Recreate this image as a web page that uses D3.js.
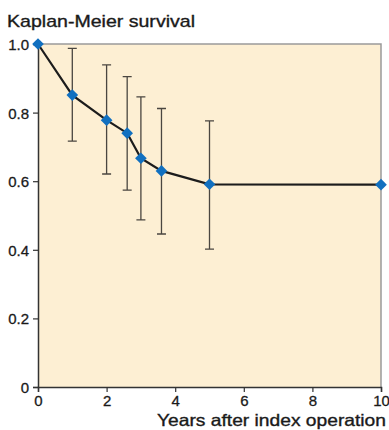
<!DOCTYPE html>
<html>
<head>
<meta charset="utf-8">
<script src="https://cdn.jsdelivr.net/npm/d3@7/dist/d3.min.js"></script>
<style>
  html, body { margin: 0; padding: 0; background: #fff; }
  svg { display: block; font-family: 'Liberation Sans', Arial, sans-serif; }
</style>
</head>
<body>
<svg id="chart" width="389" height="430"></svg>
<script>
// survival estimates
const years = [0, 1, 2, 2.6, 3, 3.6, 5, 10]
const survival = [1.0, 0.851, 0.778, 0.74, 0.667, 0.63, 0.591, 0.59]

// confidence intervals (error bars)
const ciYears = [1, 2, 2.6, 3, 3.6, 5]
const ciUpper = [0.987, 0.939, 0.905, 0.846, 0.812, 0.776]
const ciLower = [0.717, 0.621, 0.574, 0.487, 0.446, 0.402]

const xTicks = [0, 2, 4, 6, 8, 10]
const yTicks = [0, 0.2, 0.4, 0.6, 0.8, 1.0]

function buildScales() {
  const x = d3.scaleLinear().domain([0, 10]).range([38, 381])
  const y = d3.scaleLinear().domain([0, 1]).range([387, 44])
  return { x, y }
}

function buildBackground(svg, x, y) {
  svg.append('rect')
    .attr('x', x(0)).attr('y', y(1))
    .attr('width', x(10) - x(0)).attr('height', y(0) - y(1))
    .attr('fill', '#fdefd3')
  // top and right frame
  svg.append('path')
    .attr('d', 'M' + x(0) + ',' + y(1) + 'H' + x(10) + 'V' + y(0))
    .attr('fill', 'none').attr('stroke', '#9a9a9a').attr('stroke-width', 1.5)
}

function buildAxes(svg, x, y) {
  const yAxis = svg.append('g')
    .attr('transform', 'translate(' + x(0) + ',0)')
    .call(d3.axisLeft(y).tickValues(yTicks).tickSize(5).tickPadding(4)
      .tickFormat(d => d === 0 ? '0' : d3.format('.1f')(d)))
  const xAxis = svg.append('g')
    .attr('transform', 'translate(0,' + y(0) + ')')
    .call(d3.axisBottom(x).tickValues(xTicks).tickSize(5).tickPadding(3))

  ;[xAxis, yAxis].forEach(a => {
    a.select('.domain').attr('stroke', '#333').attr('stroke-width', 1.5)
    a.selectAll('.tick line').attr('stroke', '#333').attr('stroke-width', 1.2)
    a.selectAll('.tick text')
      .attr('fill', '#1a1a1a').attr('font-size', 15)
      .attr('stroke', '#1a1a1a').attr('stroke-width', 0.3)
      .attr('font-family', "'Liberation Sans', Arial, sans-serif")
  })
  yAxis.selectAll('.tick text').attr('dy', '0.36em')
}

function buildErrorBars(svg, x, y) {
  const bars = ciYears.map((t, i) => ({ t, hi: ciUpper[i], lo: ciLower[i] }))
  const g = svg.append('g').attr('stroke', '#4a4640').attr('stroke-width', 1.3)
  g.selectAll('path').data(bars).enter().append('path')
    .attr('fill', 'none')
    .attr('d', d =>
      'M' + x(d.t) + ',' + y(d.hi) + 'V' + y(d.lo) +
      'M' + (x(d.t) - 4.5) + ',' + y(d.hi) + 'h9' +
      'M' + (x(d.t) - 4.5) + ',' + y(d.lo) + 'h9')
}

function buildCurve(svg, x, y) {
  const pts = years.map((t, i) => ({ t, s: survival[i] }))
  const line = d3.line().x(d => x(d.t)).y(d => y(d.s))
  svg.append('path').datum(pts)
    .attr('d', line)
    .attr('fill', 'none').attr('stroke', '#1c1c1c').attr('stroke-width', 2.2)

  svg.append('g').selectAll('path').data(pts).enter().append('path')
    .attr('d', d3.symbol().type(d3.symbolSquare).size(68))
    .attr('transform', d => 'translate(' + x(d.t) + ',' + y(d.s) + ') rotate(45)')
    .attr('fill', '#1170c0')
}

function buildLabels(svg) {
  svg.append('text')
    .attr('x', 7).attr('y', 27)
    .attr('font-size', 17).attr('fill', '#1a1a1a')
    .attr('stroke', '#1a1a1a').attr('stroke-width', 0.35)
    .attr('textLength', 188).attr('lengthAdjust', 'spacingAndGlyphs')
    .text('Kaplan-Meier survival')
  svg.append('text')
    .attr('x', 386).attr('y', 426)
    .attr('text-anchor', 'end')
    .attr('font-size', 16.5).attr('fill', '#1a1a1a')
    .attr('stroke', '#1a1a1a').attr('stroke-width', 0.35)
    .attr('textLength', 229).attr('lengthAdjust', 'spacingAndGlyphs')
    .text('Years after index operation')
}

function generateChart() {
  const svg = d3.select('#chart')
  const { x, y } = buildScales()
  buildBackground(svg, x, y)
  buildErrorBars(svg, x, y)
  buildAxes(svg, x, y)
  buildCurve(svg, x, y)
  buildLabels(svg)
}

generateChart()
</script>
</body>
</html>
